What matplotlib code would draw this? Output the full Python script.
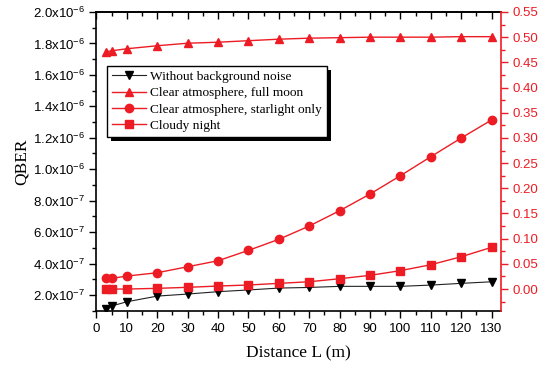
import matplotlib
matplotlib.use('Agg')
import matplotlib.pyplot as plt
import numpy as np
from matplotlib.ticker import MultipleLocator, FuncFormatter
from matplotlib.patches import Rectangle

plt.rcParams['font.family'] = ['Liberation Sans', 'DejaVu Sans']
plt.rcParams['mathtext.default'] = 'regular'

# Distance (m)
distance = [3, 5, 10, 20, 30, 40, 50, 60, 70, 80, 90, 100, 110, 120, 130]

# QBER without background noise (left axis)
qber_no_noise = [1.09e-7, 1.30e-7, 1.57e-7, 1.93e-7, 2.06e-7, 2.21e-7, 2.32e-7, 2.44e-7,
                 2.48e-7, 2.55e-7, 2.55e-7, 2.55e-7, 2.63e-7, 2.74e-7, 2.84e-7]

# QBER with background noise (right axis)
qber_full_moon = [0.471, 0.473, 0.477, 0.483, 0.488, 0.490, 0.493, 0.496,
                  0.498, 0.499, 0.500, 0.500, 0.500, 0.501, 0.501]
qber_starlight = [0.0212, 0.0212, 0.0258, 0.0324, 0.0443, 0.0562, 0.0768, 0.0987,
                  0.1251, 0.1555, 0.1886, 0.2250, 0.2627, 0.2998, 0.3356]
qber_cloudy = [0.0, 0.0, 0.0, 0.0014, 0.0034, 0.0060, 0.0080, 0.0113,
               0.0145, 0.0205, 0.0272, 0.0365, 0.0483, 0.0641, 0.0828]

labels = ['Without background noise', 'Clear atmosphere, full moon',
          'Clear atmosphere, starlight only', 'Cloudy night']

red = '#ed1c24'
serif = 'Liberation Serif'


def sci_fmt(v, pos):
    if v <= 0:
        return ''
    e = int(np.floor(np.log10(v) + 1e-9))
    m = v / 10 ** e
    return r'$%.1fx10^{%d}$' % (m, e)


fig = plt.figure(figsize=(5.4, 3.71), dpi=100)
ax = fig.add_axes([0.1787, 0.1625, 0.7485, 0.8052])
ax2 = ax.twinx()

l1, = ax.plot(distance, qber_no_noise, color='#222222', lw=0.8, marker='v',
              ms=6, mfc='black', mec='black')
l2, = ax2.plot(distance, qber_full_moon, color=red, lw=1.0, marker='^',
               ms=6, mfc=red, mec=red)
l3, = ax2.plot(distance, qber_starlight, color=red, lw=1.0, marker='o',
               ms=6, mfc=red, mec=red)
l4, = ax2.plot(distance, qber_cloudy, color=red, lw=1.0, marker='s',
               ms=5.5, mfc=red, mec=red)

ax.set_xlim(0, 133)
ax.set_ylim(1e-7, 2.0e-6)
ax2.set_ylim(-0.043, 0.55)

ax.xaxis.set_major_locator(MultipleLocator(10))
ax.xaxis.set_minor_locator(MultipleLocator(5))
ax.yaxis.set_major_locator(MultipleLocator(2e-7))
ax.yaxis.set_minor_locator(MultipleLocator(1e-7))
ax.yaxis.set_major_formatter(FuncFormatter(sci_fmt))
ax2.yaxis.set_major_locator(MultipleLocator(0.05))
ax2.yaxis.set_minor_locator(MultipleLocator(0.025))
ax2.yaxis.set_major_formatter(FuncFormatter(lambda v, p: '%.2f' % v))

ax.tick_params(axis='both', which='major', direction='out', length=5, width=1,
               labelsize=9.5, colors='black')
ax.tick_params(axis='both', which='minor', direction='out', length=3, width=1)
ax2.tick_params(axis='y', which='major', direction='out', length=5, width=1,
                labelsize=9.5, colors=red)
ax2.tick_params(axis='y', which='minor', direction='out', length=3, width=1,
                colors=red)

# top axis ticks point inward
secx = ax.secondary_xaxis('top')
secx.xaxis.set_major_locator(MultipleLocator(10))
secx.xaxis.set_minor_locator(MultipleLocator(5))
secx.tick_params(which='major', direction='in', length=5, width=1, labeltop=False)
secx.tick_params(which='minor', direction='in', length=3, width=1)
secx.spines['top'].set_linewidth(1.2)
ax.tick_params(axis='x', which='both', top=False)

for s in ['left', 'bottom', 'top']:
    ax.spines[s].set_linewidth(1.2)
ax.spines['right'].set_visible(False)
ax2.spines['right'].set_color(red)
ax2.spines['right'].set_linewidth(1.2)
for s in ['left', 'bottom', 'top']:
    ax2.spines[s].set_visible(False)

ax.set_xlabel('Distance L (m)', family=serif, fontsize=12.5, labelpad=8)
ax.set_ylabel('QBER', family=serif, fontsize=12.5, labelpad=2)

leg = ax2.legend([l1, l2, l3, l4], labels, loc='upper left',
                 bbox_to_anchor=(0.026, 0.819), prop={'family': serif, 'size': 9.6},
                 frameon=True, fancybox=False, edgecolor='black', framealpha=1,
                 borderpad=0.35, labelspacing=0.3, handlelength=2.6,
                 handletextpad=0.3, borderaxespad=0)
leg.get_frame().set_linewidth(1.0)
leg.set_zorder(10)

# solid black shadow behind the legend box
fig.canvas.draw()
bb = leg.get_window_extent()
off = 4
shadow = Rectangle((bb.x0 + off, bb.y0 - off), bb.width, bb.height,
                   transform=None, facecolor='black', edgecolor='none', zorder=9)
ax2.add_artist(shadow)

fig.savefig('out.png', dpi=100)
